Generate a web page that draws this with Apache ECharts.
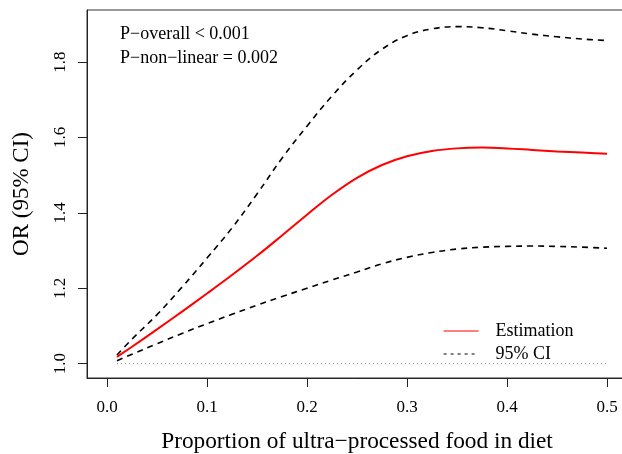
<!DOCTYPE html>
<html>
<head>
<meta charset="utf-8">
<script src="https://cdn.jsdelivr.net/npm/echarts@6/dist/echarts.min.js"></script>
<style>
html,body{margin:0;padding:0;background:#fff;}
#chart{width:622px;height:454px;}
</style>
</head>
<body>
<div id="chart"></div>
<script>
const xs =       [0.01, 0.025, 0.05, 0.075, 0.1, 0.125, 0.15, 0.175, 0.2, 0.225, 0.25, 0.275, 0.3, 0.325, 0.35, 0.375, 0.4, 0.425, 0.45, 0.475, 0.5];
const estimate = [1.018, 1.045, 1.091, 1.138, 1.186, 1.235, 1.286, 1.340, 1.395, 1.448, 1.493, 1.527, 1.550, 1.564, 1.571, 1.573, 1.571, 1.567, 1.563, 1.560, 1.557];
const upper =    [1.023, 1.065, 1.130, 1.203, 1.280, 1.360, 1.450, 1.545, 1.630, 1.710, 1.779, 1.834, 1.870, 1.888, 1.894, 1.891, 1.883, 1.874, 1.867, 1.861, 1.857];
const lower =    [1.008, 1.025, 1.053, 1.080, 1.106, 1.131, 1.155, 1.178, 1.200, 1.222, 1.243, 1.265, 1.282, 1.295, 1.304, 1.309, 1.311, 1.312, 1.311, 1.309, 1.306];
const refX = [0.01, 0.5];
const refY = [1.0, 1.0];
const xTicks = [0, 0.1, 0.2, 0.3, 0.4, 0.5];
const yTicks = [1.0, 1.2, 1.4, 1.6, 1.8];
const pTexts = ['P\u2212overall < 0.001', 'P\u2212non\u2212linear = 0.002'];
const legendNames = ['Estimation', '95% CI'];

const FONT = 'Liberation Serif';
const zip = (a, b) => a.map((v, i) => [v, b[i]]);

const chart = echarts.init(document.getElementById('chart'), null, {renderer: 'canvas'});
chart.setOption({
  animation: false,
  backgroundColor: '#fff',
  textStyle: {fontFamily: FONT, color: '#000'},
  title: {
    text: pTexts.join('\n'),
    left: 120, top: 22, padding: 0,
    textStyle: {fontFamily: FONT, fontSize: 18, fontWeight: 'normal', color: '#000', lineHeight: 24}
  },
  grid: {
    left: 87, top: 10, width: 540, height: 368,
    containLabel: false, outerBoundsMode: 'none',
    show: true, borderColor: '#333', borderWidth: 1, backgroundColor: 'transparent'
  },
  legend: {
    orient: 'vertical',
    left: 443, top: 322, padding: 0,
    itemWidth: 35, itemHeight: 14, itemGap: 5,
    textStyle: {fontFamily: FONT, fontSize: 18, color: '#000', padding: [0, 0, 0, 12]},
    data: [
      {name: legendNames[0], itemStyle: {opacity: 0}, lineStyle: {width: 1.2, color: '#ff0000', type: 'solid'}},
      {name: legendNames[1], itemStyle: {opacity: 0}, lineStyle: {width: 1.2, color: '#000', type: [3, 4]}}
    ]
  },
  xAxis: {
    type: 'value', min: -0.02, max: 0.52,
    name: 'Proportion of ultra\u2212processed food in diet',
    nameLocation: 'middle', nameGap: 52,
    nameTextStyle: {fontFamily: FONT, fontSize: 23.3, color: '#000'},
    axisLine: {show: true, onZero: false, lineStyle: {color: '#222', width: 1}},
    axisTick: {show: true, length: 9, inside: false, customValues: xTicks, lineStyle: {color: '#222'}},
    axisLabel: {customValues: xTicks, margin: 21, fontFamily: FONT, fontSize: 17, color: '#000',
      formatter: v => v.toFixed(1), showMinLabel: true, showMaxLabel: true},
    splitLine: {show: false}
  },
  yAxis: {
    type: 'value', min: 0.962, max: 1.938,
    name: 'OR (95% CI)',
    nameLocation: 'middle', nameGap: 54, nameRotate: 90,
    nameTextStyle: {fontFamily: FONT, fontSize: 23, color: '#000'},
    axisLine: {show: true, onZero: false, lineStyle: {color: '#222', width: 1}},
    axisTick: {show: true, length: 9, inside: false, customValues: yTicks, lineStyle: {color: '#222'}},
    axisLabel: {customValues: yTicks, margin: 18, rotate: 90, fontFamily: FONT, fontSize: 17, color: '#000',
      formatter: v => v.toFixed(1), showMinLabel: true, showMaxLabel: true},
    splitLine: {show: false}
  },
  series: [
    {
      name: 'ref', type: 'line', data: zip(refX, refY), symbol: 'none', silent: true,
      lineStyle: {color: '#888', width: 1, type: [1, 3]}, z: 1
    },
    {
      name: legendNames[1], type: 'line', data: zip(xs, upper), smooth: 0.4, symbol: 'none',
      itemStyle: {color: '#000'}, lineStyle: {color: '#000', width: 1.6, type: [6, 5]}
    },
    {
      name: legendNames[1], type: 'line', data: zip(xs, lower), smooth: 0.4, symbol: 'none',
      itemStyle: {color: '#000'}, lineStyle: {color: '#000', width: 1.6, type: [6, 5]}
    },
    {
      name: legendNames[0], type: 'line', data: zip(xs, estimate), smooth: 0.4, symbol: 'none',
      itemStyle: {color: '#ff0000'}, lineStyle: {color: '#ff0000', width: 2}
    }
  ]
});
</script>
</body>
</html>
